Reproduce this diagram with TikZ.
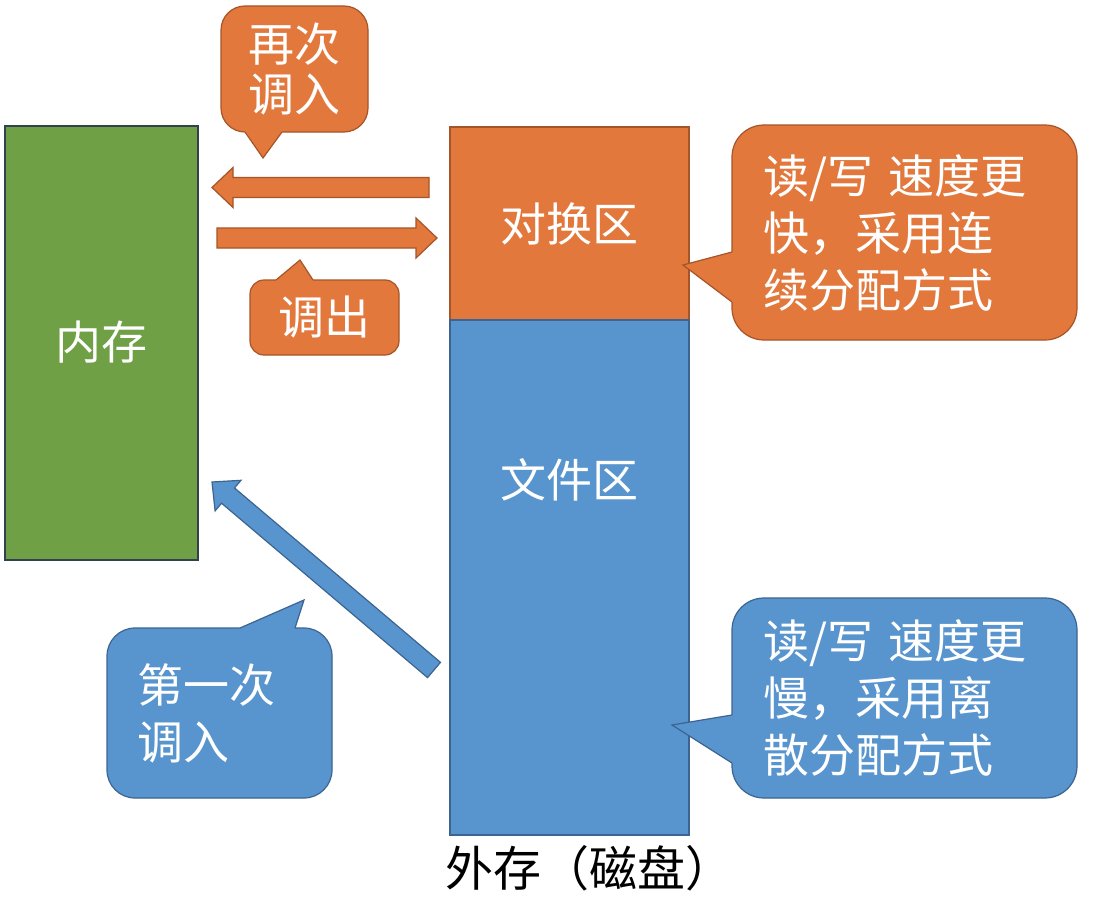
\documentclass[tikz,border=0pt]{standalone}
\usepackage{fontspec}
\newfontfamily\cjk{Noto Sans CJK SC}
\usetikzlibrary{calc}
\definecolor{myorange}{RGB}{226,120,60}
\definecolor{myorangeb}{RGB}{165,85,40}
\definecolor{myblue}{RGB}{88,148,205}
\definecolor{mybluec}{RGB}{60,100,145}
\definecolor{mygreen}{RGB}{112,160,70}
\definecolor{mygreenb}{RGB}{50,65,80}
\tikzset{
  bigtext/.style={font=\cjk\fontsize{46}{57}\selectfont},
  block/.style={draw, line width=1.2, inner sep=0, text=white, bigtext},
  orangebox/.style={fill=myorange, draw=myorangeb},
  bluebox/.style={fill=myblue, draw=mybluec},
  greenbox/.style={fill=mygreen, draw=mygreenb},
  callout/.style={draw, line width=1.2, inner sep=0, text=white, bigtext, align=left, rounded corners=#1},
  barrow/.style={line width=1.2, line join=miter},
}
% block arrow: #1 name, #2 style, #3 from, #4 to
\newcommand\blockarrow[4]{%
  \coordinate (#1-hb) at ($(#4)!21pt!(#3)$);
  \draw[barrow,#2] ($(#3)!10pt!90:(#4)$) -- ($(#1-hb)!10pt!-90:(#3)$) -- ($(#1-hb)!20pt!-90:(#3)$) -- (#4)
    -- ($(#1-hb)!20pt!90:(#3)$) -- ($(#1-hb)!10pt!90:(#3)$) -- ($(#3)!10pt!-90:(#4)$) -- cycle;
}
% callout pointer: #1 fill, #2 border, #3 base1, #4 tip, #5 base2, #6 inward shift
\newcommand\callptr[6]{%
  \fill[#1] ($(#3)+#6$) -- (#3) -- (#4) -- (#5) -- ($(#5)+#6$) -- cycle;
  \draw[#2, line width=1.2, line join=miter] (#3) -- (#4) -- (#5);
}
\begin{document}
\begin{tikzpicture}[x=1pt,y=-1pt]
\useasboundingbox[fill=white] (0,0) rectangle (1114,899);

% main blocks
\node[block, greenbox, minimum width=193, minimum height=434] (mem) at (101.5,343) {};
\node[text=white, bigtext] (memt) at (101,342) {内存};
\node[block, orangebox, minimum width=239, minimum height=193] (swap) at (569.5,223.5) {对换区};
\node[block, bluebox, minimum width=239, minimum height=515] (file) at (569.5,577.5) {};
\node[text=white, bigtext] (filet) at (569,480) {文件区};
\node[font=\cjk\fontsize{48}{57}\selectfont, text=black] (disk) at (589,868) {外存（磁盘）};

% arrows
\coordinate (a1s) at (429,187.5);
\coordinate (a1e) at (212,187.5);
\coordinate (a2s) at (217,238);
\coordinate (a2e) at (437,238);
\coordinate (a3s) at (434,670);
\coordinate (a3e) at (212,482);
\blockarrow{ar1}{orangebox}{a1s}{a1e}
\blockarrow{ar2}{orangebox}{a2s}{a2e}
\blockarrow{ar3}{bluebox}{a3s}{a3e}

% callouts
\node[callout=24, orangebox, minimum width=147, minimum height=126,
      font=\cjk\fontsize{46}{50}\selectfont] (c1) at (294.5,69) {再次\\调入};
\callptr{myorange}{myorangeb}{245,132}{263,158}{282,132}{(0,-4)}

\node[callout=14, orangebox, minimum width=149, minimum height=75] (c2) at (324.5,317.5) {调出};
\callptr{myorange}{myorangeb}{276,280}{300,260}{313,280}{(0,4)}

\node[callout=32, orangebox, minimum width=345, minimum height=215, text width=283] (c3) at (904.5,232.5)
  {读/写 速度更\\快，采用连\\续分配方式};
\callptr{myorange}{myorangeb}{732,252}{683,265}{732,302}{(4,0)}

\node[callout=32, bluebox, minimum width=345, minimum height=200, text width=283] (c4) at (904.5,698)
  {读/写 速度更\\慢，采用离\\散分配方式};
\callptr{myblue}{mybluec}{732,715}{672,725}{732,763}{(4,0)}

\node[callout=28, bluebox, minimum width=225, minimum height=170, text width=165] (c5) at (219.5,713)
  {第一次\\调入};
\callptr{myblue}{mybluec}{240,628}{304,600}{295,628}{(0,4)}
\end{tikzpicture}
\end{document}
